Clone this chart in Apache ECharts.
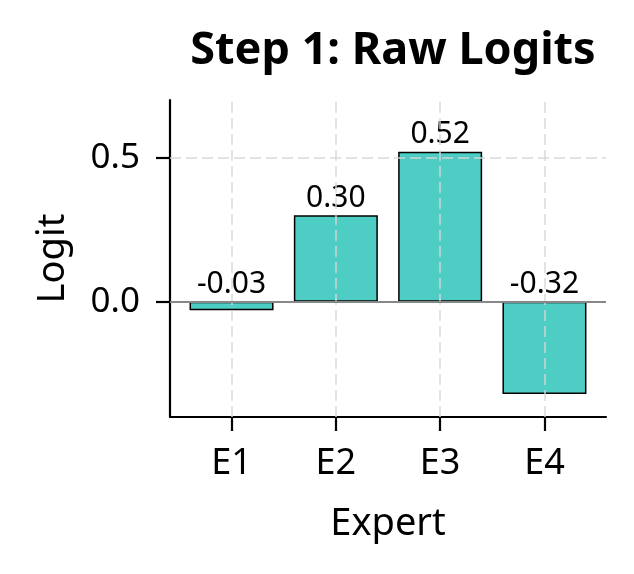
<!DOCTYPE html>
<html>
<head>
<meta charset="utf-8">
<script src="https://cdn.jsdelivr.net/npm/echarts@6/dist/echarts.min.js"></script>
<style>
html,body{margin:0;padding:0;background:#fff;}
#chart{width:634px;height:574px;}
</style>
</head>
<body>
<div id="chart"></div>
<script>
var experts = ['E1', 'E2', 'E3', 'E4'];
var logits = [-0.03, 0.30, 0.52, -0.32];
var yTicks = [0.0, 0.5];
var xPositions = [0, 1, 2, 3];

var FONT = 'Noto Sans';
var chart = echarts.init(document.getElementById('chart'), null, {renderer: 'canvas'});

var barData = logits.map(function (v, i) { return [xPositions[i], v]; });
var gridStyle = {color: 'rgba(215,215,215,0.7)', width: 2, type: [11, 5]};

var gridLines = [];
xPositions.forEach(function (x) { gridLines.push({xAxis: x, lineStyle: gridStyle}); });
yTicks.forEach(function (y) { gridLines.push({yAxis: y, lineStyle: gridStyle}); });
gridLines.push({yAxis: 0, lineStyle: {color: '#888888', width: 2, type: 'solid'}});

var option = {
  backgroundColor: '#ffffff',
  animation: false,
  title: {
    text: 'Step 1: Raw Logits',
    left: 388, top: 24, textAlign: 'center',
    textStyle: {fontFamily: FONT, fontWeight: 'bold', fontSize: 45, color: '#000'}
  },
  grid: {left: 170, right: 28, top: 100, bottom: 157, containLabel: false},
  xAxis: {
    type: 'value', min: -0.59, max: 3.59,
    name: 'Expert', nameLocation: 'middle', nameGap: 88,
    nameTextStyle: {fontFamily: FONT, fontSize: 38, color: '#000'},
    axisLine: {show: true, onZero: false, lineStyle: {color: '#000', width: 2.2}},
    axisTick: {show: true, customValues: xPositions, length: 14, lineStyle: {color: '#000', width: 2.2}},
    axisLabel: {
      customValues: xPositions, margin: 29,
      fontFamily: FONT, fontSize: 36, color: '#000',
      formatter: function (v) { return experts[Math.round(v)]; }
    },
    splitLine: {show: false}
  },
  yAxis: {
    type: 'value', min: -0.4, max: 0.7,
    name: 'Logit', nameLocation: 'middle', nameGap: 98, nameRotate: 90,
    nameTextStyle: {fontFamily: FONT, fontSize: 38, color: '#000'},
    axisLine: {show: true, onZero: false, lineStyle: {color: '#000', width: 2.2}},
    axisTick: {show: true, customValues: yTicks, length: 14, lineStyle: {color: '#000', width: 2.2}},
    axisLabel: {
      customValues: yTicks, margin: 30,
      fontFamily: FONT, fontSize: 35, color: '#000',
      formatter: function (v) { return v.toFixed(1); }
    },
    splitLine: {show: false}
  },
  series: [{
    type: 'bar',
    data: barData,
    barWidth: 84,
    clip: false,
    itemStyle: {color: '#4ECDC4', borderColor: '#000', borderWidth: 1.5},
    label: {
      show: true, position: 'top', distance: 2,
      fontFamily: FONT, fontSize: 30, color: '#000',
      formatter: function (p) { return p.value[1].toFixed(2); }
    }
  }, {
    type: 'line',
    data: [],
    zlevel: 1,
    silent: true,
    markLine: {
      silent: true, symbol: 'none', label: {show: false},
      animation: false,
      data: gridLines
    }
  }]
};
chart.setOption(option);
</script>
</body>
</html>
